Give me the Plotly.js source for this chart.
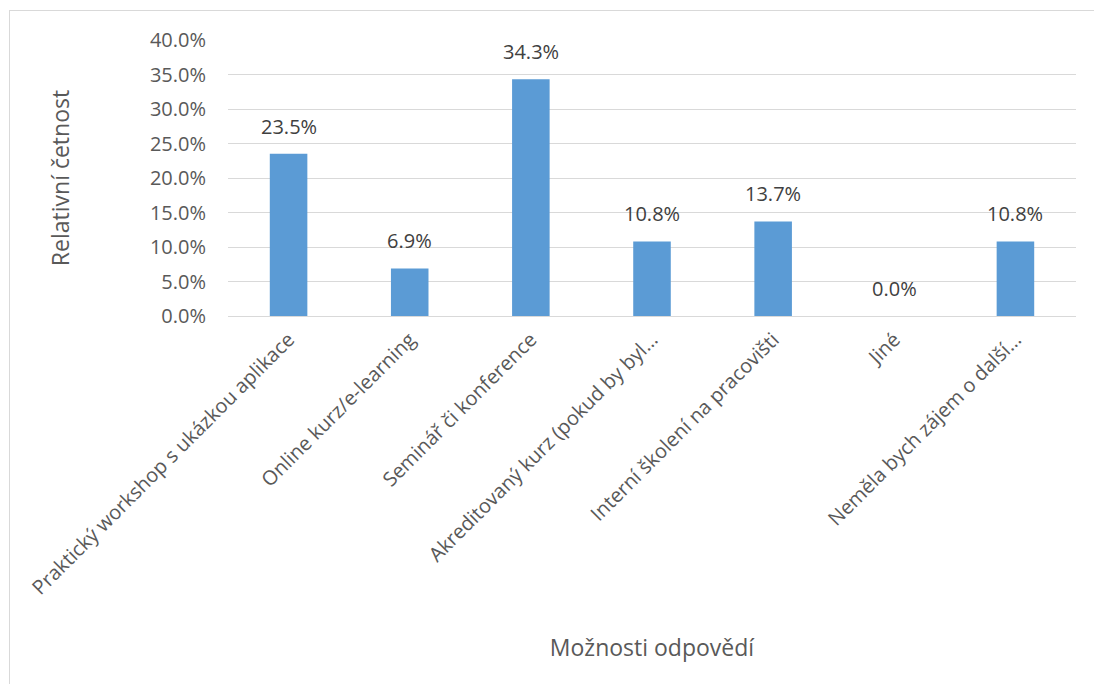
<!DOCTYPE html>
<html>
<head>
<meta charset="utf-8">
<script src="https://cdn.plot.ly/plotly-3.0.1.min.js"></script>
<style>
html,body{margin:0;padding:0;background:#fff;}
#wrap{position:relative;width:1094px;height:684px;overflow:hidden;}
#chart{position:absolute;left:0;top:0;width:1094px;height:684px;}
#frame{position:absolute;left:9px;top:10px;width:1200px;height:800px;border:1px solid #d9d9d9;pointer-events:none;}
</style>
</head>
<body>
<div id="wrap"><div id="chart"></div><div id="frame"></div></div>
<script>
const categories = [
  "Praktický workshop s ukázkou aplikace",
  "Online kurz/e-learning",
  "Seminář či konference",
  "Akreditovaný kurz (pokud by byl…",
  "Interní školení na pracovišti",
  "Jiné",
  "Neměla bych zájem o další…"
];
const values = [0.235, 0.069, 0.343, 0.108, 0.137, 0.0, 0.108];
const yTickVals = [0, 0.05, 0.10, 0.15, 0.20, 0.25, 0.30, 0.35, 0.40];
const xTitle = "Možnosti odpovědí";
const yTitle = "Relativní četnost";

const FONT = "Open Sans, Noto Sans, sans-serif";

const trace = {
  type: "bar",
  x: categories,
  y: values,
  marker: {color: "#5b9bd5"},
  hoverinfo: "x+y"
};

const labels = categories.map((c, i) => ({
  x: c,
  y: values[i],
  xref: "x", yref: "y",
  text: (values[i] * 100).toFixed(1) + "%",
  showarrow: false,
  yanchor: "bottom",
  yshift: 12,
  font: {family: FONT, size: 20, color: "#404040"}
}));

const layout = {
  width: 1094, height: 684,
  margin: {l: 228, r: 18, t: 40, b: 368},
  paper_bgcolor: "#ffffff",
  plot_bgcolor: "#ffffff",
  bargap: 0.69,
  showlegend: false,
  font: {family: FONT, color: "#595959", size: 20},
  annotations: labels,
  xaxis: {
    type: "category",
    tickangle: -45,
    tickfont: {family: FONT, size: 20, color: "#595959"},
    showgrid: false,
    showline: false,
    ticks: "",
    ticklabelstandoff: 7,
    automargin: false,
    title: {text: xTitle, font: {family: FONT, size: 23, color: "#595959"}, standoff: 40}
  },
  yaxis: {
    range: [0, 0.4],
    tickvals: yTickVals,
    tickformat: ".1%",
    tickfont: {family: FONT, size: 20, color: "#595959"},
    showgrid: true,
    gridcolor: "#d9d9d9",
    gridwidth: 1,
    zeroline: true,
    zerolinecolor: "#d9d9d9",
    zerolinewidth: 1,
    showline: false,
    ticks: "",
    ticklabelstandoff: 21,
    automargin: false,
    title: {text: yTitle, font: {family: FONT, size: 23, color: "#595959"}, standoff: 73}
  }
};

Plotly.newPlot("chart", [trace], layout, {displayModeBar: false, staticPlot: true});
</script>
</body>
</html>
